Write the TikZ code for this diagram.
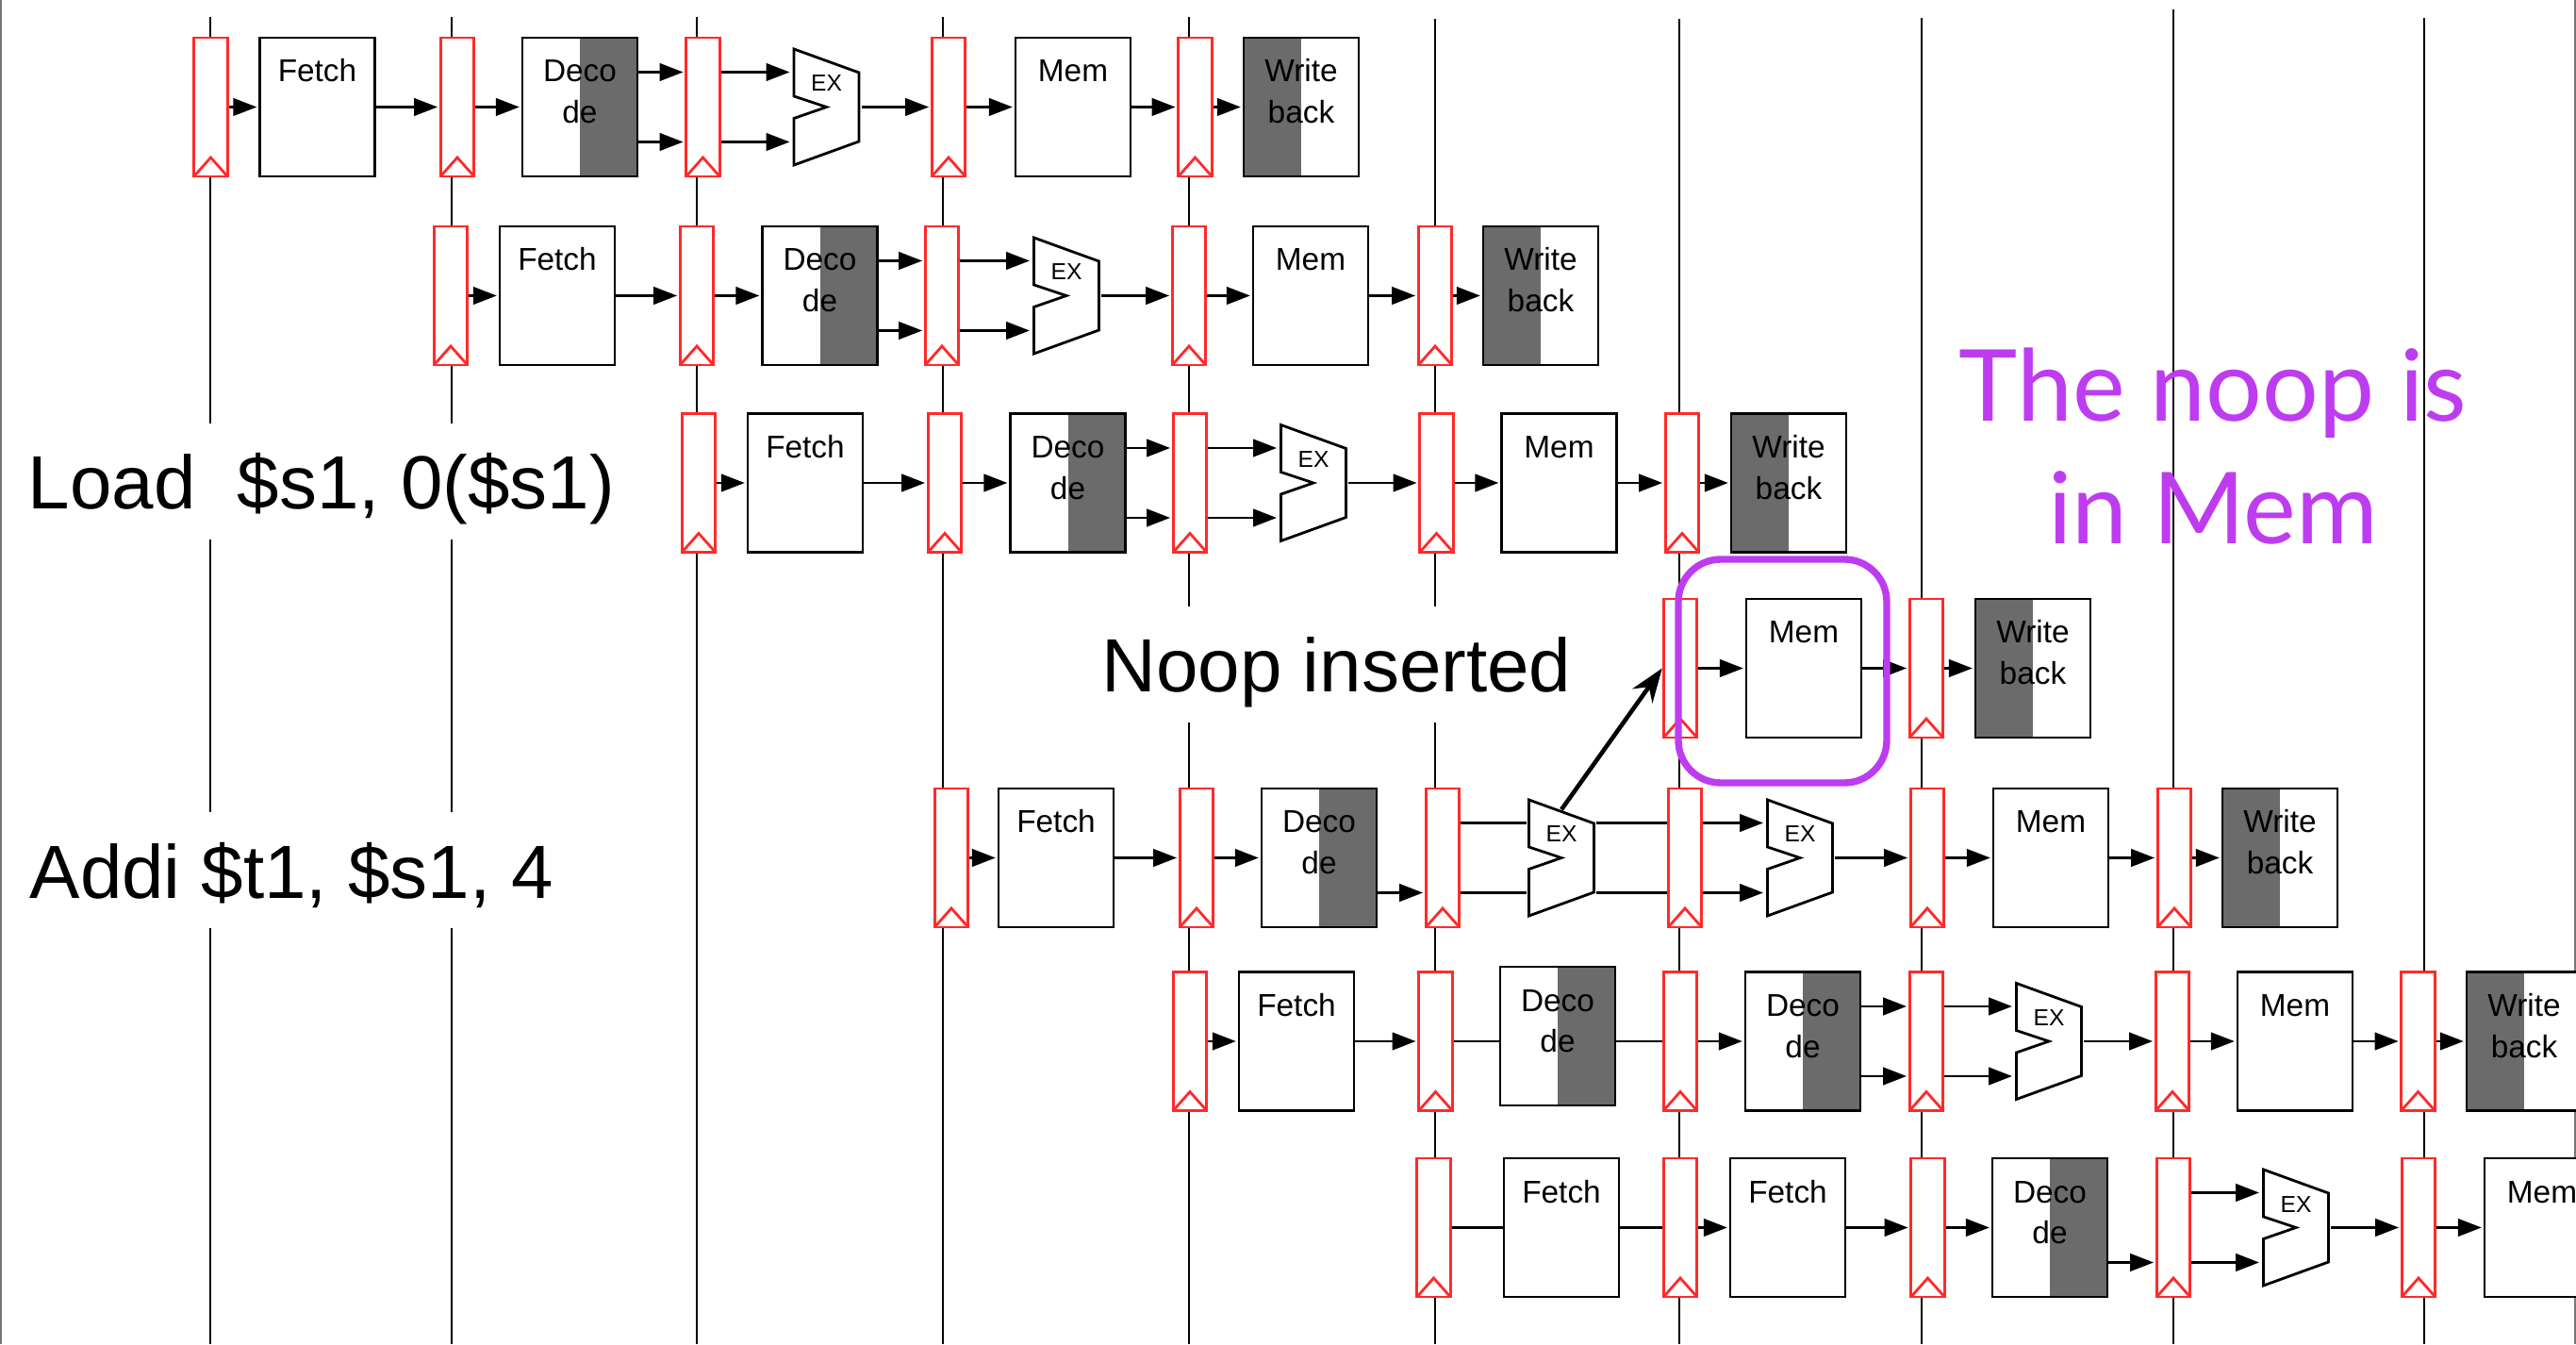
\documentclass[tikz,border=0pt]{standalone}
\usepackage{fontspec}
\setmainfont{Liberation Sans}
\newfontfamily\noopfont{Lato}
\usetikzlibrary{positioning,arrows.meta,calc}
\definecolor{PipeRed}{RGB}{255,42,42}
\definecolor{NoopPurple}{RGB}{190,60,240}
\definecolor{StageGray}{RGB}{107,107,107}
\definecolor{FrameGray}{RGB}{120,120,120}
\newcommand{\uptext}[2]{\smash{\raisebox{#1}{\begin{tabular}[t]{@{}c@{}}#2\end{tabular}}}}
\tikzset{
  clockline/.style={line width=0.75pt, black},
  framerule/.style={line width=0.6pt, FrameGray},
  regbox/.style={draw=PipeRed, line width=0.8pt, fill=white, minimum width=0.355cm, minimum height=1.47cm, inner sep=0pt,
    path picture={\draw[PipeRed, line width=0.8pt] (path picture bounding box.south west) -- ([yshift=0.2cm]path picture bounding box.south) -- (path picture bounding box.south east);}},
  stagebox/.style={draw, line width=0.8pt, fill=white, minimum width=1.22cm, minimum height=1.47cm, inner sep=0pt, font=\fontsize{9.5}{12.4}\selectfont},
  decodebox/.style={stagebox, path picture={\fill[StageGray] (path picture bounding box.north) rectangle (path picture bounding box.south east);}},
  writebox/.style={stagebox, path picture={\fill[StageGray] (path picture bounding box.north west) rectangle (path picture bounding box.south);}},
  alubox/.style={fill=white, minimum width=0.73cm, minimum height=1.27cm, inner sep=0pt, font=\fontsize{7}{8.4}\selectfont,
    path picture={\draw[line width=0.8pt] ([xshift=0.02cm,yshift=-0.02cm]path picture bounding box.north west) -- ++(0.69,-0.25) -- ++(0,-0.73) -- ++(-0.69,-0.25) -- ++(0,0.495) -- ++(0.345,0.12) -- ++(-0.345,0.115) -- cycle;}},
  stagewire/.style={line width=0.8pt},
  stagearrow/.style={line width=0.8pt, -{Triangle[length=0.25cm,width=0.185cm]}, shorten >=0.5pt},
  slidetext/.style={fill=white, anchor=west, inner sep=0pt, text height=0.91cm, text depth=0.32cm, font=\fontsize{22.75}{27}\selectfont},
  purpletext/.style={NoopPurple, align=center, inner sep=0pt, font=\noopfont\fontsize{30}{37}\selectfont}
}

\begin{document}
\begin{tikzpicture}[x=1cm,y=1cm]
  \useasboundingbox (0,0) rectangle (27.32,14.25);

  \coordinate (fl0) at (0.01,14.25); \coordinate (fl1) at (0.01,0); \draw[framerule] (fl0) -- (fl1);
  \coordinate (fr0) at (27.31,14.25); \coordinate (fr1) at (27.31,0); \draw[framerule] (fr0) -- (fr1);
  \coordinate (c1a) at (2.23,14.07); \coordinate (c1b) at (2.23,0); \draw[clockline] (c1a) -- (c1b);
  \coordinate (c2a) at (4.79,14.07); \coordinate (c2b) at (4.79,0); \draw[clockline] (c2a) -- (c2b);
  \coordinate (c3a) at (7.39,14.07); \coordinate (c3b) at (7.39,0); \draw[clockline] (c3a) -- (c3b);
  \coordinate (c4a) at (10.00,14.07); \coordinate (c4b) at (10.00,0); \draw[clockline] (c4a) -- (c4b);
  \coordinate (c5a) at (12.61,14.07); \coordinate (c5b) at (12.61,0); \draw[clockline] (c5a) -- (c5b);
  \coordinate (c6a) at (15.22,14.05); \coordinate (c6b) at (15.22,0); \draw[clockline] (c6a) -- (c6b);
  \coordinate (c7a) at (17.81,14.05); \coordinate (c7b) at (17.81,0); \draw[clockline] (c7a) -- (c7b);
  \coordinate (c8a) at (20.38,14.06); \coordinate (c8b) at (20.38,0); \draw[clockline] (c8a) -- (c8b);
  \coordinate (c9a) at (23.05,14.15); \coordinate (c9b) at (23.05,0); \draw[clockline] (c9a) -- (c9b);
  \coordinate (c10a) at (25.71,14.06); \coordinate (c10b) at (25.71,0); \draw[clockline] (c10a) -- (c10b);

  \node[slidetext] (load) at (0.29,9.145) {Load~~\$s1, 0(\$s1)};
  \node[slidetext] (addi) at (0.31,5.02) {Addi \$t1, \$s1, 4};
  \node[slidetext] (noop) at (11.68,7.205) {Noop inserted};

  \node[regbox] (r1a) at (2.235,13.115) {};
  \node[stagebox] (f1) at (3.365,13.115) {\uptext{0.265cm}{Fetch}};
  \node[regbox] (r1b) at (4.85,13.115) {};
  \node[decodebox] (d1) at (6.15,13.115) {\uptext{0.265cm}{Deco\\de}};
  \node[regbox] (r1c) at (7.455,13.115) {};
  \node[alubox] (x1) at (8.765,13.115) {\uptext{0.165cm}{EX}};
  \node[regbox] (r1d) at (10.06,13.115) {};
  \node[stagebox] (m1) at (11.38,13.115) {\uptext{0.265cm}{Mem}};
  \node[regbox] (r1e) at (12.675,13.115) {};
  \node[writebox] (w1) at (13.80,13.115) {\uptext{0.265cm}{Write\\back}};

  \node[regbox] (r2a) at (4.78,11.115) {};
  \node[stagebox] (f2) at (5.91,11.115) {\uptext{0.265cm}{Fetch}};
  \node[regbox] (r2b) at (7.39,11.115) {};
  \node[decodebox] (d2) at (8.695,11.115) {\uptext{0.265cm}{Deco\\de}};
  \node[regbox] (r2c) at (9.99,11.115) {};
  \node[alubox] (x2) at (11.31,11.115) {\uptext{0.165cm}{EX}};
  \node[regbox] (r2d) at (12.61,11.115) {};
  \node[stagebox] (m2) at (13.90,11.115) {\uptext{0.265cm}{Mem}};
  \node[regbox] (r2e) at (15.22,11.115) {};
  \node[writebox] (w2) at (16.34,11.115) {\uptext{0.265cm}{Write\\back}};

  \node[regbox] (r3a) at (7.41,9.13) {};
  \node[stagebox] (f3) at (8.54,9.13) {\uptext{0.265cm}{Fetch}};
  \node[regbox] (r3b) at (10.02,9.13) {};
  \node[decodebox] (d3) at (11.325,9.13) {\uptext{0.265cm}{Deco\\de}};
  \node[regbox] (r3c) at (12.62,9.13) {};
  \node[alubox] (x3) at (13.93,9.13) {\uptext{0.165cm}{EX}};
  \node[regbox] (r3d) at (15.235,9.13) {};
  \node[stagebox] (m3) at (16.535,9.13) {\uptext{0.265cm}{Mem}};
  \node[regbox] (r3e) at (17.84,9.13) {};
  \node[writebox] (w3) at (18.97,9.13) {\uptext{0.265cm}{Write\\back}};

  \node[regbox] (r4a) at (17.82,7.165) {};
  \node[stagebox] (m4) at (19.13,7.165) {\uptext{0.265cm}{Mem}};
  \node[regbox] (r4b) at (20.43,7.165) {};
  \node[writebox] (w4) at (21.56,7.165) {\uptext{0.265cm}{Write\\back}};

  \node[regbox] (r5a) at (10.09,5.155) {};
  \node[stagebox] (f5) at (11.20,5.155) {\uptext{0.265cm}{Fetch}};
  \node[regbox] (r5b) at (12.69,5.155) {};
  \node[decodebox] (d5) at (13.99,5.155) {\uptext{0.265cm}{Deco\\de}};
  \node[regbox] (r5c) at (15.30,5.155) {};
  \node[alubox] (x5) at (16.56,5.155) {\uptext{0.165cm}{EX}};
  \node[regbox] (r5d) at (17.87,5.155) {};
  \node[alubox] (x5b) at (19.09,5.155) {\uptext{0.165cm}{EX}};
  \node[regbox] (r5e) at (20.44,5.155) {};
  \node[stagebox] (m5) at (21.75,5.155) {\uptext{0.265cm}{Mem}};
  \node[regbox] (r5f) at (23.06,5.155) {};
  \node[writebox] (w5) at (24.18,5.155) {\uptext{0.265cm}{Write\\back}};

  \node[regbox] (r6a) at (12.62,3.21) {};
  \node[stagebox] (f6) at (13.75,3.21) {\uptext{0.265cm}{Fetch}};
  \node[regbox] (r6b) at (15.225,3.21) {};
  \node[decodebox] (d6) at (16.52,3.265) {\uptext{0.265cm}{Deco\\de}};
  \node[regbox] (r6c) at (17.82,3.21) {};
  \node[decodebox] (d6b) at (19.12,3.21) {\uptext{0.265cm}{Deco\\de}};
  \node[regbox] (r6d) at (20.43,3.21) {};
  \node[alubox] (x6) at (21.73,3.21) {\uptext{0.165cm}{EX}};
  \node[regbox] (r6e) at (23.04,3.21) {};
  \node[stagebox] (m6) at (24.34,3.21) {\uptext{0.265cm}{Mem}};
  \node[regbox] (r6f) at (25.645,3.21) {};
  \node[writebox] (w6) at (26.77,3.21) {\uptext{0.265cm}{Write\\back}};

  \node[regbox] (r7a) at (15.205,1.235) {};
  \node[stagebox] (f7) at (16.56,1.235) {\uptext{0.265cm}{Fetch}};
  \node[regbox] (r7b) at (17.82,1.235) {};
  \node[stagebox] (f7b) at (18.96,1.235) {\uptext{0.265cm}{Fetch}};
  \node[regbox] (r7c) at (20.445,1.235) {};
  \node[decodebox] (d7) at (21.74,1.235) {\uptext{0.265cm}{Deco\\de}};
  \node[regbox] (r7d) at (23.05,1.235) {};
  \node[alubox] (x7) at (24.35,1.235) {\uptext{0.165cm}{EX}};
  \node[regbox] (r7e) at (25.65,1.235) {};
  \node[stagebox] (m7) at (26.96,1.235) {\uptext{0.265cm}{Mem}};

  \draw[stagearrow] (r1a) -- (f1);
  \draw[stagearrow] (f1) -- (r1b);
  \draw[stagearrow] (r1b) -- (d1);
  \draw[stagearrow] ([yshift=0.37cm]d1.east) -- ([yshift=0.37cm]r1c.west);
  \draw[stagearrow] ([yshift=-0.37cm]d1.east) -- ([yshift=-0.37cm]r1c.west);
  \draw[stagearrow] ([yshift=0.37cm]r1c.east) -- ([yshift=0.37cm]x1.west);
  \draw[stagearrow] ([yshift=-0.37cm]r1c.east) -- ([yshift=-0.37cm]x1.west);
  \draw[stagearrow] (x1) -- (r1d);
  \draw[stagearrow] (r1d) -- (m1);
  \draw[stagearrow] (m1) -- (r1e);
  \draw[stagearrow] (r1e) -- (w1);

  \draw[stagearrow] (r2a) -- (f2);
  \draw[stagearrow] (f2) -- (r2b);
  \draw[stagearrow] (r2b) -- (d2);
  \draw[stagearrow] ([yshift=0.37cm]d2.east) -- ([yshift=0.37cm]r2c.west);
  \draw[stagearrow] ([yshift=-0.37cm]d2.east) -- ([yshift=-0.37cm]r2c.west);
  \draw[stagearrow] ([yshift=0.37cm]r2c.east) -- ([yshift=0.37cm]x2.west);
  \draw[stagearrow] ([yshift=-0.37cm]r2c.east) -- ([yshift=-0.37cm]x2.west);
  \draw[stagearrow] (x2) -- (r2d);
  \draw[stagearrow] (r2d) -- (m2);
  \draw[stagearrow] (m2) -- (r2e);
  \draw[stagearrow] (r2e) -- (w2);

  \draw[stagearrow] (r3a) -- (f3);
  \draw[stagearrow] (f3) -- (r3b);
  \draw[stagearrow] (r3b) -- (d3);
  \draw[stagearrow] ([yshift=0.37cm]d3.east) -- ([yshift=0.37cm]r3c.west);
  \draw[stagearrow] ([yshift=-0.37cm]d3.east) -- ([yshift=-0.37cm]r3c.west);
  \draw[stagearrow] ([yshift=0.37cm]r3c.east) -- ([yshift=0.37cm]x3.west);
  \draw[stagearrow] ([yshift=-0.37cm]r3c.east) -- ([yshift=-0.37cm]x3.west);
  \draw[stagearrow] (x3) -- (r3d);
  \draw[stagearrow] (r3d) -- (m3);
  \draw[stagearrow] (m3) -- (r3e);
  \draw[stagearrow] (r3e) -- (w3);

  \draw[stagearrow] (r4a) -- (m4);
  \draw[stagearrow] (m4) -- (r4b);
  \draw[stagearrow] (r4b) -- (w4);

  \draw[stagearrow] (r5a) -- (f5);
  \draw[stagearrow] (f5) -- (r5b);
  \draw[stagearrow] (r5b) -- (d5);
  \draw[stagearrow] ([yshift=-0.37cm]d5.east) -- ([yshift=-0.37cm]r5c.west);
  \draw[stagewire] ([yshift=0.37cm]r5c.east) -- ([yshift=0.37cm]x5.west);
  \draw[stagewire] ([yshift=-0.37cm]r5c.east) -- ([yshift=-0.37cm]x5.west);
  \draw[stagewire] ([yshift=0.37cm]x5.east) -- ([yshift=0.37cm]r5d.west);
  \draw[stagewire] ([yshift=-0.37cm]x5.east) -- ([yshift=-0.37cm]r5d.west);
  \draw[stagearrow] ([yshift=0.37cm]r5d.east) -- ([yshift=0.37cm]x5b.west);
  \draw[stagearrow] ([yshift=-0.37cm]r5d.east) -- ([yshift=-0.37cm]x5b.west);
  \draw[stagearrow] (x5b) -- (r5e);
  \draw[stagearrow] (r5e) -- (m5);
  \draw[stagearrow] (m5) -- (r5f);
  \draw[stagearrow] (r5f) -- (w5);

  \draw[stagearrow] (r6a) -- (f6);
  \draw[stagearrow] (f6) -- (r6b);
  \draw[stagewire] (r6b.east) -- (r6b.east -| d6.west);
  \draw[stagewire] (d6.east |- r6c.west) -- (r6c.west);
  \draw[stagearrow] (r6c) -- (d6b);
  \draw[stagearrow] ([yshift=0.37cm]d6b.east) -- ([yshift=0.37cm]r6d.west);
  \draw[stagearrow] ([yshift=-0.37cm]d6b.east) -- ([yshift=-0.37cm]r6d.west);
  \draw[stagearrow] ([yshift=0.37cm]r6d.east) -- ([yshift=0.37cm]x6.west);
  \draw[stagearrow] ([yshift=-0.37cm]r6d.east) -- ([yshift=-0.37cm]x6.west);
  \draw[stagearrow] (x6) -- (r6e);
  \draw[stagearrow] (r6e) -- (m6);
  \draw[stagearrow] (m6) -- (r6f);
  \draw[stagearrow] (r6f) -- (w6);

  \draw[stagewire] (r7a) -- (f7);
  \draw[stagewire] (f7) -- (r7b);
  \draw[stagearrow] (r7b) -- (f7b);
  \draw[stagearrow] (f7b) -- (r7c);
  \draw[stagearrow] (r7c) -- (d7);
  \draw[stagearrow] ([yshift=-0.37cm]d7.east) -- ([yshift=-0.37cm]r7d.west);
  \draw[stagearrow] ([yshift=0.37cm]r7d.east) -- ([yshift=0.37cm]x7.west);
  \draw[stagearrow] ([yshift=-0.37cm]r7d.east) -- ([yshift=-0.37cm]x7.west);
  \draw[stagearrow] (x7) -- (r7e);
  \draw[stagearrow] (r7e) -- (m7);

  \draw[line width=1.3pt, -{Stealth[length=0.36cm,width=0.26cm]}] ([yshift=-0.13cm]x5.north) -- (r4a.west);
  \node[draw=NoopPurple, line width=2.1pt, rounded corners=0.45cm, minimum width=2.21cm, minimum height=2.37cm, inner sep=0pt] (noopframe) at (18.905,7.135) {};

  \node[purpletext] (noopnote) at (23.47,9.52) {The noop is\\in Mem};
\end{tikzpicture}
\end{document}
